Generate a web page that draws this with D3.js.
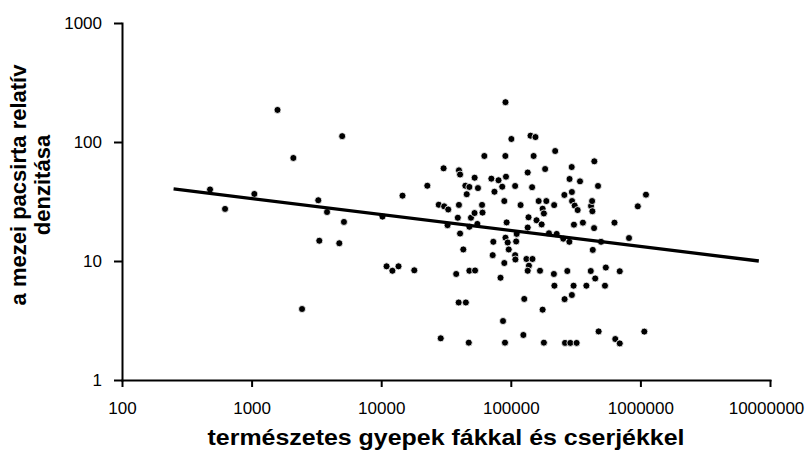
<!DOCTYPE html>
<html>
<head>
<meta charset="utf-8">
<script src="https://d3js.org/d3.v7.min.js"></script>
<style>
body, html {
    margin: 0;
    background: #fff;
    font-family: "Liberation Sans", Arial, sans-serif;
}
.axis path, .axis line {
  stroke: #000;
  stroke-width: 2px;
}
.axis text {
  font-size: 17px;
  fill: #000;
}
.title {
  font-weight: bold;
  font-size: 22px;
}
</style>
</head>
<body>
<div id="chart"></div>
<script>

var width = 807,
    height = 450;

// természetes gyepek fákkal és cserjékkel (x) / relatív denzitás (y)
var habitat = [478, 624, 1050, 1585, 2100, 2450, 3270, 3330, 3820, 4750, 5000, 5160,
  10230, 11000, 12200, 13600, 14600, 18000, 22700, 27800, 28800, 30300, 30600, 32900,
  32500, 39000, 37900, 39800, 40600, 39800, 40600, 43000, 44600, 45700, 47900, 39600,
  45000, 47900, 53000, 47900, 47400, 49300, 52500, 52600, 55800, 55200, 60000, 60500,
  62500, 70800, 73300, 72500, 74800, 80400, 85900, 83300, 87100, 89100, 89100, 91000,
  90800, 91800, 91000, 94600, 92900, 96400, 90200, 101000, 108000, 108000, 108500, 110000,
  111000, 119000, 125000, 127000, 132000, 147000, 135000, 135000, 137000, 138000, 135000, 142000,
  155000, 146000, 150000, 158000, 164000, 168000, 173000, 176000, 180000, 176000, 180000, 184000,
  188000, 197000, 215000, 216000, 217000, 220000, 226000, 254000, 259000, 260000, 262000, 273000,
  284000, 283000, 288000, 295000, 296000, 297000, 296000, 305000, 307000, 311000, 322000, 328000,
  342000, 360000, 383000, 416000, 414000, 424000, 426000, 429000, 441000, 439000, 448000, 471000,
  476000, 497000, 533000, 541000, 631000, 640000, 693000, 693000, 817000, 955000, 1072000, 1104000];

var density = [39.9, 27.4, 36.6, 186, 73.4, 3.95, 32.4, 14.8, 25.8, 14.1, 112, 21.3,
  23.6, 9.02, 8.28, 9.02, 35.4, 8.35, 42.9, 29.7, 2.24, 60.1, 28.8, 27.1,
  20.0, 23.1, 7.78, 57.8, 53.3, 29.6, 17.0, 12.5, 42.9, 36.4, 41.9, 4.48,
  4.48, 8.28, 8.32, 19.4, 2.06, 23.1, 25.3, 50.1, 41.0, 20.5, 29.6, 25.5,
  76.3, 49.2, 14.5, 11.2, 38.2, 47.7, 42.1, 7.23, 3.13, 31.9, 9.62, 216,
  76.3, 51.1, 15.7, 14.3, 21.1, 12.5, 2.06, 106, 42.7, 11.2, 10.3, 14.6,
  16.9, 29.5, 2.39, 4.80, 10.4, 10.4, 55.4, 19.1, 23.3, 9.14, 8.28, 113,
  110, 41.7, 76.3, 22.0, 31.9, 8.28, 20.3, 27.5, 25.1, 3.90, 2.06, 59.3,
  31.9, 17.1, 7.78, 29.5, 6.20, 84.0, 16.9, 15.4, 35.9, 4.78, 2.05, 8.24,
  48.9, 14.5, 2.05, 61.6, 38.0, 31.9, 5.18, 6.20, 20.2, 29.2, 2.05, 26.8,
  46.7, 21.0, 6.20, 29.0, 8.24, 31.9, 26.2, 12.4, 68.8, 18.9, 7.13, 42.7,
  2.56, 14.5, 6.20, 8.81, 21.0, 2.21, 8.20, 2.03, 15.6, 28.8, 2.55, 36.1];

// illesztett egyenes végpontjai
var trendX = [250, 8200000];
var trendY = [40.3, 10.0];

var xTicks = [100, 1000, 10000, 100000, 1000000, 10000000];
var yTicks = [1, 10, 100, 1000];

var svg = d3.select('#chart').append('svg')
  .attr('width', width)
  .attr('height', height);

var x = d3.scaleLog().domain([100, 10000000]).range([122, 770]);
var y = d3.scaleLog().domain([1, 1000]).range([380, 23]);

var xAxis = svg.append('g')
  .attr('class', 'axis')
  .attr('transform', 'translate(0,' + y(1) + ')')
  .call(d3.axisBottom(x).tickValues(xTicks).tickFormat(d3.format('d'))
    .tickSize(7).tickSizeOuter(0).tickPadding(15));

// az utolsó felirat ne lógjon ki a képből
xAxis.selectAll('.tick text')
  .filter(function(d) { return d === 10000000; })
  .attr('dx', -4);

svg.append('g')
  .attr('class', 'axis')
  .attr('transform', 'translate(' + x(100) + ',0)')
  .call(d3.axisLeft(y).tickValues(yTicks).tickFormat(d3.format('d'))
    .tickSize(8).tickSizeOuter(0).tickPadding(12));

svg.selectAll('.axis .domain').attr('stroke-linecap', 'square');

// pontok
svg.append('g')
  .selectAll('circle')
  .data(d3.zip(habitat, density))
  .enter().append('circle')
  .attr('cx', function(d) { return x(d[0]); })
  .attr('cy', function(d) { return y(d[1]); })
  .attr('r', 3.5)
  .attr('fill', '#000')
  .attr('stroke', '#fff')
  .attr('stroke-width', 0.8);

svg.append('path')
  .datum(d3.zip(trendX, trendY))
  .attr('fill', 'none')
  .attr('stroke', '#000')
  .attr('stroke-width', 3.3)
  .attr('d', d3.line()
    .x(function(d) { return x(d[0]); })
    .y(function(d) { return y(d[1]); }));

svg.append('text')
  .attr('class', 'title')
  .attr('x', 446)
  .attr('y', 445)
  .attr('text-anchor', 'middle')
  .attr('textLength', 477)
  .attr('lengthAdjust', 'spacingAndGlyphs')
  .text('természetes gyepek fákkal és cserjékkel');

var yTitle = svg.append('text')
  .attr('class', 'title')
  .attr('text-anchor', 'middle')
  .attr('transform', 'translate(0,185) rotate(-90)');
yTitle.append('tspan').attr('x', 0).attr('y', 26).text('a mezei pacsirta relatív');
yTitle.append('tspan').attr('x', 0).attr('y', 50).text('denzitása');

</script>
</body>
</html>
